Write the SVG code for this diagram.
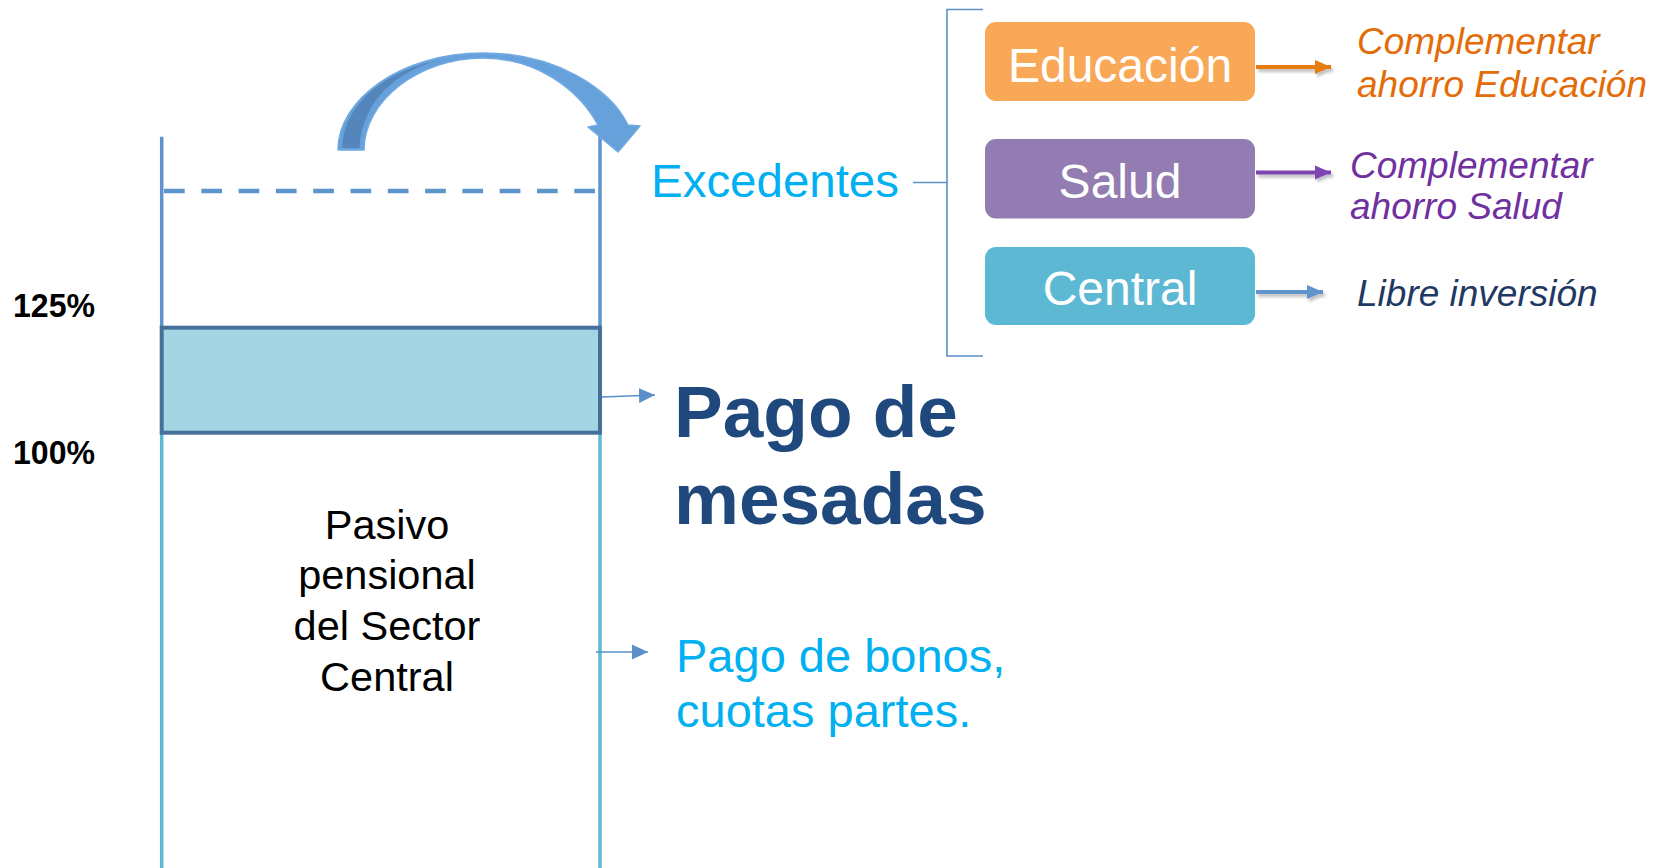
<svg xmlns="http://www.w3.org/2000/svg" width="1663" height="868" viewBox="0 0 1663 868">
  <style>
    .sans { font-family: "Liberation Sans", Arial, sans-serif; }
    .boxtxt { font-family: "Liberation Sans", Arial, sans-serif; font-size: 48px; fill: #ffffff; text-anchor: middle; }
    .note { font-family: "Liberation Sans", Arial, sans-serif; font-size: 37px; font-style: italic; }
    .pct { font-family: "Liberation Sans", Arial, sans-serif; font-size: 33px; font-weight: bold; fill: #000000; }
    .pas { font-family: "Liberation Sans", Arial, sans-serif; font-size: 41.5px; fill: #000000; text-anchor: middle; }
    .wallUp { stroke: #5E94CC; stroke-width: 3.5; fill: none; }
    .wallLow { stroke: #5DBAD5; stroke-width: 3.5; fill: none; }
    .thin { stroke: #5B8FC8; stroke-width: 1.6; fill: none; }
  </style>
  <defs>
    <marker id="hBlue" markerUnits="userSpaceOnUse" markerWidth="16" markerHeight="16" refX="16" refY="8" orient="auto">
      <path d="M0,0.5 L16,8 L0,15.5 Z" fill="#5B8FC8"/>
    </marker>
    <marker id="hOrange" markerUnits="userSpaceOnUse" markerWidth="16" markerHeight="15" refX="16" refY="7.5" orient="auto">
      <path d="M0,0.5 L16,7.5 L0,14.5 Z" fill="#E57C0C"/>
    </marker>
    <marker id="hPurple" markerUnits="userSpaceOnUse" markerWidth="16" markerHeight="15" refX="16" refY="7.5" orient="auto">
      <path d="M0,0.5 L16,7.5 L0,14.5 Z" fill="#7E45B2"/>
    </marker>
    <marker id="hSteel" markerUnits="userSpaceOnUse" markerWidth="16" markerHeight="15" refX="16" refY="7.5" orient="auto">
      <path d="M0,0.5 L16,7.5 L0,14.5 Z" fill="#5E94CC"/>
    </marker>
    <filter id="shadow" x="-20%" y="-50%" width="140%" height="200%">
      <feDropShadow dx="2" dy="3" stdDeviation="1.5" flood-color="#000000" flood-opacity="0.25"/>
    </filter>
  </defs>

  <!-- tank -->
  <g id="tank">
    <line class="wallUp" x1="161.7" y1="136.7" x2="161.7" y2="328"/>
    <line class="wallUp" x1="600" y1="130" x2="600" y2="328"/>
    <line class="wallLow" x1="161.7" y1="433" x2="161.7" y2="868"/>
    <line class="wallLow" x1="600" y1="433" x2="600" y2="868"/>
    <line x1="164" y1="191" x2="595" y2="191" stroke="#5E94CC" stroke-width="4.5" stroke-dasharray="20.7 16.6"/>
    <rect x="161.7" y="327.7" width="438.3" height="105" fill="#A3D5E3" stroke="#466F9A" stroke-width="4"/>
  </g>

  <g id="pasivo">
    <text class="pas" x="387" y="539">Pasivo</text>
    <text class="pas" x="387" y="588.5">pensional</text>
    <text class="pas" x="387" y="640">del Sector</text>
    <text class="pas" x="387" y="690.5">Central</text>
  </g>

  <g id="labels-pct">
    <text class="pct" x="13" y="316.5" textLength="82" lengthAdjust="spacingAndGlyphs">125%</text>
    <text class="pct" x="13" y="464" textLength="82" lengthAdjust="spacingAndGlyphs">100%</text>
  </g>

  <!-- curved arrow -->
  <g id="curved-arrow">
    <path d="M 338,150 C 338,100 400,53 483,53 C 555,53 610,88 628,125 L 640,126 L 618,152 L 588,127 L 598,125 C 578,88 535,58 483,58 C 420,58 364,100 364,150 Z" fill="#66A1DC" stroke="#72AAE2" stroke-width="1.5" stroke-linejoin="round"/>
    <path d="M 342.5,148 C 343,105 385,70 440,60 C 398,70 362,100 359.5,148 Z" fill="#5586BB"/>
  </g>

  <g id="excedentes">
    <text class="sans" x="651" y="197" font-size="47" fill="#00B0F0" textLength="248" lengthAdjust="spacingAndGlyphs">Excedentes</text>
  </g>

  <g id="educacion">
    <rect x="985" y="22" width="270" height="79" rx="11" fill="#F9A857"/>
    <text class="boxtxt" x="1120" y="81.5">Educación</text>
  </g>
  <g id="salud">
    <rect x="985" y="139" width="270" height="79.5" rx="11" fill="#937CB1"/>
    <text class="boxtxt" x="1120" y="198">Salud</text>
  </g>
  <g id="central">
    <rect x="985" y="247" width="270" height="78" rx="11" fill="#5DB9D3"/>
    <text class="boxtxt" x="1120" y="305">Central</text>
  </g>

  <g id="nota-educacion">
    <text class="note" x="1357" y="54" fill="#E36C09">Complementar</text>
    <text class="note" x="1357" y="96.5" fill="#E36C09">ahorro Educación</text>
  </g>
  <g id="nota-salud">
    <text class="note" x="1350" y="177.5" fill="#7030A0">Complementar</text>
    <text class="note" x="1350" y="219" fill="#7030A0">ahorro Salud</text>
  </g>
  <g id="nota-central">
    <text class="note" x="1357" y="306" fill="#1F3864">Libre inversión</text>
  </g>

  <g id="mesadas">
    <text class="sans" x="674" y="437" font-size="73" font-weight="bold" fill="#1F497D">Pago de</text>
    <text class="sans" x="674" y="524" font-size="73" font-weight="bold" fill="#1F497D">mesadas</text>
  </g>

  <g id="bonos">
    <text class="sans" x="676" y="671.5" font-size="47" fill="#00B0F0">Pago de bonos,</text>
    <text class="sans" x="676" y="726.5" font-size="47" fill="#00B0F0">cuotas partes.</text>
  </g>

  <!-- connectors -->
  <g id="connectors">
    <path class="thin" d="M 913,182.5 L 947,182.5 M 983,9.5 L 947,9.5 L 947,356 L 983,356"/>
    <path class="thin" d="M 602,397 L 655,395" marker-end="url(#hBlue)"/>
    <path class="thin" d="M 596,652 L 648,652" marker-end="url(#hBlue)"/>
    <g filter="url(#shadow)">
      <path d="M 1256,67 L 1331,67" stroke="#E57C0C" stroke-width="4" fill="none" marker-end="url(#hOrange)"/>
      <path d="M 1256,172.5 L 1331,172.5" stroke="#7E45B2" stroke-width="4" fill="none" marker-end="url(#hPurple)"/>
      <path d="M 1256,292 L 1323,292" stroke="#5E94CC" stroke-width="4" fill="none" marker-end="url(#hSteel)"/>
    </g>
  </g>
</svg>
